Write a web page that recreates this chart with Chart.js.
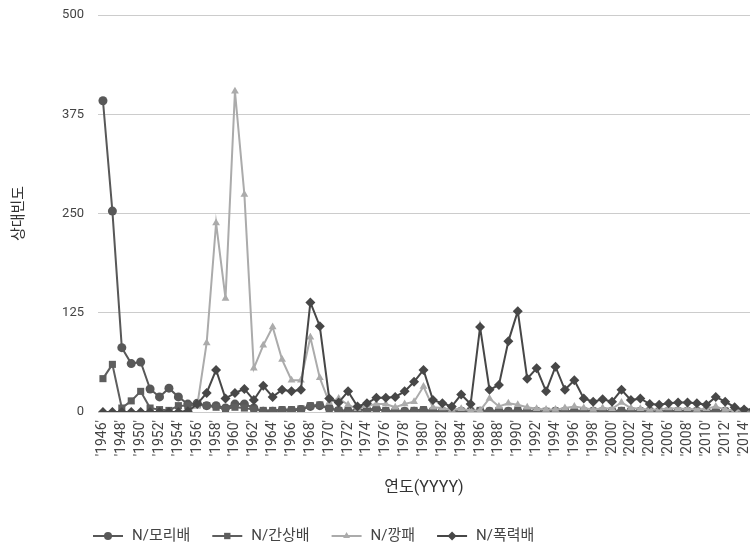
<!DOCTYPE html>
<html><head><meta charset="utf-8">
<script src="https://cdn.jsdelivr.net/npm/chart.js@4.4.1/dist/chart.umd.min.js"></script>
<style>html,body{margin:0;padding:0;background:#fff;overflow:hidden}#wrap{width:755px;height:547px;position:relative}</style>
</head><body><div id="wrap"><canvas id="c"></canvas></div>
<script>
const years = [1946,1947,1948,1949,1950,1951,1952,1953,1954,1955,1956,1957,1958,1959,1960,1961,1962,1963,1964,1965,1966,1967,1968,1969,1970,1971,1972,1973,1974,1975,1976,1977,1978,1979,1980,1981,1982,1983,1984,1985,1986,1987,1988,1989,1990,1991,1992,1993,1994,1995,1996,1997,1998,1999,2000,2001,2002,2003,2004,2005,2006,2007,2008,2009,2010,2011,2012,2013,2014,2015];
const tickYears = [1946,1948,1950,1952,1954,1956,1958,1960,1962,1964,1966,1968,1970,1972,1974,1976,1978,1980,1982,1984,1986,1988,1990,1992,1994,1996,1998,2000,2002,2004,2006,2008,2010,2012,2014];
const tickLabels = ["'1946'","'1948'","'1950'","'1952'","'1954'","'1956'","'1958'","'1960'","'1962'","'1964'","'1966'","'1968'","'1970'","'1972'","'1974'","'1976'","'1978'","'1980'","'1982'","'1984'","'1986'","'1988'","'1990'","'1992'","'1994'","'1996'","'1998'","'2000'","'2002'","'2004'","'2006'","'2008'","'2010'","'2012'","'2014'"];
const yTicks = [0,125,250,375,500];
const seriesNames = ["N/모리배","N/간상배","N/깡패","N/폭력배"];
const moribae = [392,253,81,61,63,29,19,30,19,10,11,8,8,5,10,10,5,1,1,2,2,3,7,8,5,2,1,2,3,4,1,1,1,1,2,1,1,0,1,1,1,1,1,1,1,1,1,0,1,1,1,1,1,1,1,1,1,1,1,0,1,1,1,1,1,1,1,1,1,1];
const gansangbae = [42,60,5,14,26,5,3,2,8,8,9,8,6,4,6,5,3,2,2,3,3,4,8,9,4,2,2,2,1,3,2,1,1,2,3,1,1,1,1,1,2,1,2,1,2,1,1,1,1,1,1,1,1,1,1,2,1,1,1,1,1,1,1,1,1,1,1,1,1,1];
const kkangpae = [0,0,0,0,0,0,0,0,0,1,8,87,238,143,404,274,55,84,107,66,40,40,94,43,12,17,9,4,8,10,10,6,10,13,32,6,5,3,4,2,2,17,7,11,9,6,4,3,3,5,7,5,3,5,4,12,5,4,3,3,5,4,4,3,4,7,3,2,2,2];
const pokryeokbae = [0,0,0,0,0,0,0,0,0,1,10,24,53,17,24,29,15,33,19,28,26,28,138,108,17,12,26,7,11,18,18,19,26,38,53,15,11,7,22,10,107,28,34,89,127,42,55,26,57,28,40,17,13,16,13,28,15,17,10,9,11,12,12,11,9,19,13,6,3,3];

const FONT = "Roboto, 'Noto Sans CJK KR', sans-serif";
const colors = ['#585858','#5e5e5e','#ababab','#474747'];
const styles = ['circle','rect','triangle','rectRot'];
const radii = [4.5,5,4.5,5];
const seriesData = [moribae,gansangbae,kkangpae,pokryeokbae];

function drawMarker(ctx, style, x, y, r, color){
  ctx.save(); ctx.fillStyle=color; ctx.beginPath();
  if(style==='circle'){ctx.arc(x,y,r,0,Math.PI*2);}
  else if(style==='rect'){const s=r*Math.SQRT1_2;ctx.rect(x-s,y-s,2*s,2*s);}
  else if(style==='triangle'){ctx.moveTo(x,y-r);ctx.lineTo(x+r*0.866,y+r*0.5);ctx.lineTo(x-r*0.866,y+r*0.5);ctx.closePath();}
  else {ctx.moveTo(x,y-r);ctx.lineTo(x+r,y);ctx.lineTo(x,y+r);ctx.lineTo(x-r,y);ctx.closePath();}
  ctx.fill(); ctx.restore();
}

const legendPlugin = {
  id:'customLegend',
  afterDraw(chart){
    const ctx=chart.ctx; ctx.save();
    ctx.font = "15px " + FONT; ctx.textBaseline='middle';
    let x = 93; const y = 536;
    seriesNames.forEach((name,i)=>{
      ctx.strokeStyle=colors[i]; ctx.lineWidth=2;
      ctx.beginPath(); ctx.moveTo(x,y); ctx.lineTo(x+30,y); ctx.stroke();
      drawMarker(ctx, styles[i], x+15, y, radii[i]-0.5, colors[i]);
      ctx.fillStyle='#444'; ctx.fillText(name, x+39, y);
      x += 39 + ctx.measureText(name).width + 22;
    });
    ctx.restore();
  }
};

const datasets = seriesNames.map((name,i)=>({
  label:name,
  data: years.map((yr,k)=>({x:yr,y:seriesData[i][k]})),
  borderColor:colors[i], backgroundColor:colors[i],
  borderWidth:2, pointStyle:styles[i], pointRadius:radii[i], pointBorderWidth:0,
  pointBackgroundColor:colors[i], tension:0, order:3-i
}));

new Chart(document.getElementById('c'), {
  type:'line',
  data:{datasets},
  options:{
    responsive:true, maintainAspectRatio:false, animation:false, events:[],
    layout:{padding:{left:0,right:0,top:15,bottom:47}},
    plugins:{legend:{display:false}, tooltip:{enabled:false}},
    scales:{
      x:{type:'linear', min:1945.474, max:2014.632,
        grid:{display:false, drawTicks:false}, border:{display:false},
        afterBuildTicks(scale){ scale.ticks = tickYears.map(v=>({value:v})); },
        afterFit(scale){ scale.height = 88; scale.paddingLeft=0; scale.paddingRight=0; },
        ticks:{autoSkip:false, minRotation:90, maxRotation:90, padding:8, color:'#444',
          font:{family:FONT,size:14},
          callback(v,idx){ return tickLabels[idx]; }},
        title:{display:true, text:'연도(YYYY)', color:'#333', font:{family:FONT,size:16}, padding:{top:0,bottom:2}}
      },
      y:{min:0, max:500,
        afterBuildTicks(scale){ scale.ticks = yTicks.map(v=>({value:v})); },
        afterFit(scale){ scale.width = 98; scale.paddingTop=0; scale.paddingBottom=0; },
        grid:{color:'#cccccc', lineWidth:1, drawTicks:false}, border:{display:false},
        ticks:{padding:14, color:'#444', font:{family:FONT,size:13}},
        title:{display:true, text:'상대빈도', color:'#333', font:{family:FONT,size:15}, padding:{top:10,bottom:0}}
      }
    }
  },
  plugins:[legendPlugin]
});
</script></body></html>
